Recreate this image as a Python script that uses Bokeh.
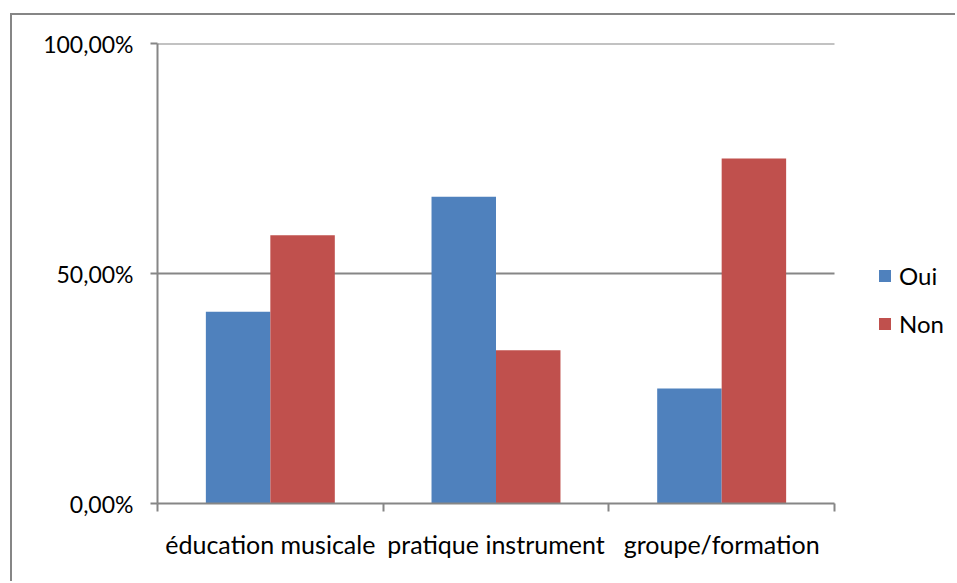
from bokeh.plotting import figure
from bokeh.models import FixedTicker, Legend, LegendItem, ColumnDataSource
from bokeh.embed import file_html
from bokeh.resources import INLINE

categories = ["éducation musicale", "pratique instrument", "groupe/formation"]
series = ["Oui", "Non"]
oui = [0.4167, 0.6667, 0.25]
non = [0.5833, 0.3333, 0.75]
y_ticks = [0.0, 0.5, 1.0]
y_tick_labels = ["0,00%", "50,00%", "100,00%"]
colors = ["#4F81BD", "#C0504D"]

FONT = "Lato"
GRAY = "#868686"

W, H = 945, 568
ML, MT, MB = 145, 28, 80
cat_px = 677  # width of the category area in pixels
frame_w = W - ML
n = len(categories)

p = figure(width=W, height=H, output_backend="svg", toolbar_location=None,
           x_range=(0, n * frame_w / cat_px), y_range=(0, 1),
           min_border_left=ML, min_border_top=MT, min_border_right=0, min_border_bottom=MB)
p.outline_line_color = None
p.background_fill_color = "white"
p.border_fill_color = "white"
p.styles = {"margin-left": "10px", "margin-top": "13px",
            "border-left": "2px solid " + GRAY, "border-top": "2px solid " + GRAY}

# gridlines (50% and 100%) limited to the category area
gsrc = ColumnDataSource(dict(x0=[0] * (len(y_ticks) - 1), x1=[n] * (len(y_ticks) - 1), y=y_ticks[1:]))
p.segment(x0="x0", x1="x1", y0="y", y1="y", source=gsrc, line_color=GRAY, line_width=2)

centers = [i + 0.5 for i in range(n)]
bw = 1.0 / 3.5
src_oui = ColumnDataSource(dict(x=[c - bw / 2 for c in centers], top=oui))
src_non = ColumnDataSource(dict(x=[c + bw / 2 for c in centers], top=non))
r1 = p.vbar(x="x", top="top", width=bw, source=src_oui, fill_color=colors[0], line_color=None)
r2 = p.vbar(x="x", top="top", width=bw, source=src_non, fill_color=colors[1], line_color=None)

# x axis
p.xaxis.bounds = (0, n)
p.xaxis.ticker = FixedTicker(ticks=centers, minor_ticks=list(range(n + 1)))
p.xaxis.major_label_overrides = {c: lab for c, lab in zip(centers, categories)}
p.xaxis.major_tick_out = 0
p.xaxis.major_tick_in = 0
p.xaxis.minor_tick_out = 8
p.xaxis.minor_tick_in = 0
p.xaxis.minor_tick_line_color = GRAY
p.xaxis.minor_tick_line_width = 2
p.xaxis.axis_line_color = GRAY
p.xaxis.axis_line_width = 2
p.xaxis.major_label_text_font = FONT
p.xaxis.major_label_text_font_size = "25px"
p.xaxis.major_label_text_color = "black"
p.xaxis.major_label_standoff = 17

# y axis
p.yaxis.ticker = FixedTicker(ticks=y_ticks, minor_ticks=[])
p.yaxis.major_label_overrides = {t: lab for t, lab in zip(y_ticks, y_tick_labels)}
p.yaxis.major_tick_out = 7
p.yaxis.major_tick_in = 0
p.yaxis.major_tick_line_color = GRAY
p.yaxis.major_tick_line_width = 2
p.yaxis.axis_line_color = GRAY
p.yaxis.axis_line_width = 2
p.yaxis.major_label_text_font = FONT
p.yaxis.major_label_text_font_size = "23px"
p.yaxis.major_label_text_color = "black"
p.yaxis.major_label_standoff = 17

p.xgrid.visible = False
p.ygrid.visible = False

legend = Legend(items=[LegendItem(label=series[0], renderers=[r1]),
                       LegendItem(label=series[1], renderers=[r2])],
                location=(720, 165), orientation="vertical")
legend.border_line_color = None
legend.background_fill_alpha = 0
legend.glyph_width = 15
legend.glyph_height = 15
legend.label_height = 20
legend.label_standoff = 7
legend.spacing = 19
legend.padding = 0
legend.margin = 0
legend.label_text_font = FONT
legend.label_text_font_size = "24px"
legend.label_text_color = "black"
p.add_layout(legend)

open("out.html", "w").write(file_html(p, INLINE))
